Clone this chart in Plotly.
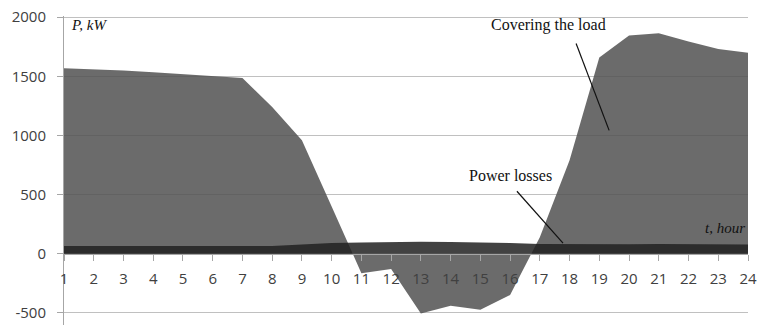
import plotly.graph_objects as go

hours = list(range(1, 25))
hour_labels = [str(h) for h in hours]
load_kw = [1568, 1560, 1550, 1535, 1520, 1505, 1485, 1240, 960, 400,
           -165, -130, -505, -440, -475, -350, 140, 790, 1660, 1845,
           1865, 1795, 1730, 1700]
losses_kw = [65, 65, 63, 62, 62, 62, 63, 65, 78, 90,
             95, 100, 100, 98, 95, 90, 82, 80, 80, 80,
             82, 82, 78, 78]
y_ticks = [-500, 0, 500, 1000, 1500, 2000]

Y_MIN, Y_MAX = -603, 2010

fig = go.Figure()
fig.add_trace(go.Scatter(
    x=hours, y=load_kw, mode="lines", fill="tozeroy",
    line=dict(width=0, color="rgba(81,81,81,0.85)"),
    fillcolor="rgba(81,81,81,0.85)", showlegend=False, hoverinfo="skip"))
fig.add_trace(go.Scatter(
    x=hours, y=losses_kw, mode="lines", fill="tozeroy",
    line=dict(width=0, color="rgba(33,33,33,0.85)"),
    fillcolor="rgba(33,33,33,0.85)", showlegend=False, hoverinfo="skip"))

serif = "Liberation Serif, Times New Roman, serif"
fig.update_layout(
    width=759, height=325,
    margin=dict(l=64, r=11, t=16, b=0, autoexpand=False),
    paper_bgcolor="white", plot_bgcolor="white",
    font=dict(family="Open Sans, sans-serif", size=15, color="#404040"),
    xaxis=dict(range=[1, 24], tickmode="array", tickvals=hours, ticktext=hour_labels,
               showgrid=False, zeroline=False, showline=True, linecolor="#a6a6a6",
               linewidth=1, ticks="outside", ticklen=6, tickcolor="#a6a6a6",
               anchor="free", position=(0 - Y_MIN) / (Y_MAX - Y_MIN), ticklabelstandoff=5,
               automargin=False, ticklabeloverflow="allow"),
    yaxis=dict(range=[Y_MIN, Y_MAX], tickmode="array", tickvals=y_ticks,
               ticktext=[str(v) for v in y_ticks],
               showgrid=True, gridcolor="#c0c0c0", gridwidth=1, zeroline=False,
               showline=True, linecolor="#a6a6a6", linewidth=1, automargin=False,
               ticks="outside", ticklen=6, tickcolor="#a6a6a6", ticklabelstandoff=8,
               ticklabeloverflow="allow"),
    annotations=[
        dict(x=1.17, y=1930, text="<i>P, kW</i>", showarrow=False, xanchor="left",
             yanchor="middle", font=dict(family=serif, size=15, color="#111")),
        dict(x=17.29, y=1930, text="Covering the load", showarrow=False,
             xanchor="center", yanchor="middle", font=dict(family=serif, size=16, color="#111")),
        dict(x=16.03, y=663, text="Power losses", showarrow=False,
             xanchor="center", yanchor="middle", font=dict(family=serif, size=16, color="#111")),
        dict(x=23.97, y=215, text="<i>t, hour</i>", showarrow=False, xanchor="right",
             yanchor="middle", font=dict(family=serif, size=15, color="#111")),
    ],
    shapes=[
        dict(type="line", x0=18.22, y0=1778, x1=19.33, y1=1043,
             line=dict(color="#111", width=1.2)),
        dict(type="line", x0=16.23, y0=528, x1=17.78, y1=89,
             line=dict(color="#111", width=1.2)),
    ],
)
fig.write_html(
    "out.html",
    config={"displayModeBar": False},
    post_script="document.body.style.margin='0';document.body.style.overflow='hidden';",
)
